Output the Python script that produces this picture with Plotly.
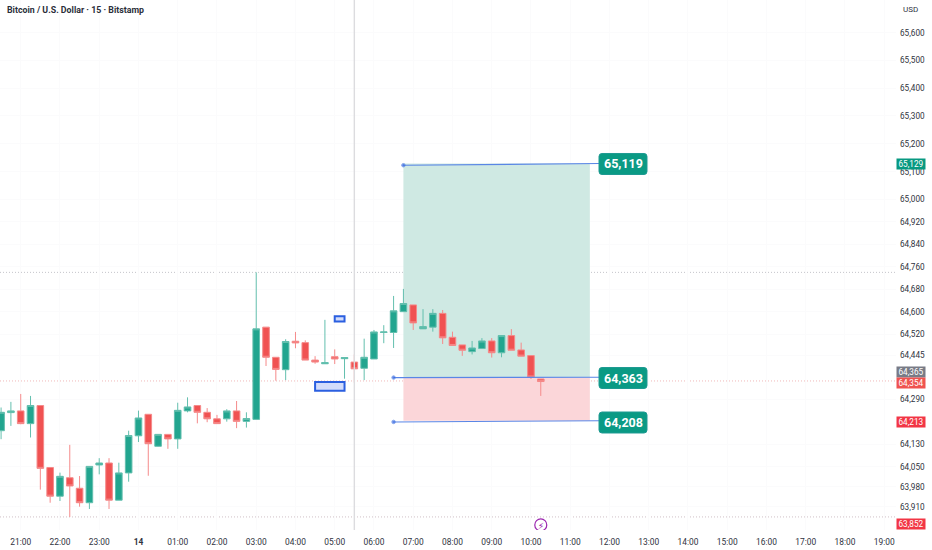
import math
import pandas as pd
import plotly.graph_objects as go

# ---------- data ----------
start = "2024-10-13 20:30"
opens = [64178,64242,64248,64203,64267,64048,63947,64012,63975,63924,64057,64064,63933,64029,64160,64236,64123,64165,64149,64248,64267,64243,64220,64220,64248,64211,
         64218,64545,64438,64394,64495,64490,64428,64415,64440,64433,64421,64399,64432,64526,64526,64600,
         64624,64539,64545,64594,64509,64482,64458,64469,64496,64454,64515,64464,64444,64361]
highs = [64260,64280,64308,64301,64267,64048,64030,64128,64018,64052,64081,64081,64065,64178,64249,64236,64165,64165,64277,64296,64267,64258,64234,64254,64283,64243,
         64740,64545,64438,64502,64528,64498,64442,64571,64466,64437,64448,64504,64535,64552,64656,64681,
         64624,64609,64609,64606,64529,64482,64496,64506,64506,64515,64538,64490,64444,64361]
lows = [64148,64195,64201,64154,63970,63924,63930,63874,63910,63902,64024,63902,63933,63998,64138,64019,64122,64114,64114,64243,64204,64208,64203,64210,64187,64189,
        64218,64407,64355,64357,64470,64428,64415,64415,64414,64362,64348,64357,64432,64488,64471,64600,
        64535,64539,64529,64485,64480,64443,64448,64469,64437,64438,64463,64442,64361,64301]
closes = [64243,64248,64203,64267,64045,63947,64017,63983,63924,64052,64064,63933,64029,64161,64223,64132,64165,64149,64250,64262,64243,64220,64203,64248,64211,64221,
          64539,64438,64395,64494,64489,64428,64421,64419,64432,64437,64397,64438,64528,64528,64603,64629,
          64560,64547,64594,64507,64480,64463,64471,64496,64454,64515,64463,64442,64368,64352]

price_ticks = [65600,65500,65400,65300,65200,65100,65000,64920,64840,64760,64680,64600,64520,64445,64290,64130,64050,63980,63910]
hour_labels = ["21:00","22:00","23:00","<b>14</b>","01:00","02:00","03:00","04:00","05:00","06:00","07:00","08:00","09:00",
               "10:00","11:00","12:00","13:00","14:00","15:00","16:00","17:00","18:00","19:00"]
hour_times = list(pd.date_range("2024-10-13 21:00", periods=len(hour_labels), freq="h"))
times = list(pd.date_range(start, periods=len(opens), freq="15min"))

title_text = "Bitcoin / U.S. Dollar · 15 · Bitstamp"
currency = "USD"
target_price, entry_price, stop_price = 65129, 64366, 64213
target_label, entry_label, stop_label = "65,119", "64,363", "64,208"
zone_start, zone_end = "2024-10-14 06:45", "2024-10-14 11:30"
line_end = "2024-10-14 11:45"
mid_start = "2024-10-14 06:30"
level_high, level_last, level_low = 64740, 64354, 63874
price_tags = [("65,129", 65129, "#089981"), ("64,365", 64365, "#787b86"), ("64,354", 64354, "#ef5350"),
              ("64,213", 64213, "#f23645"), ("63,852", 63852, "#f23645")]

# ---------- geometry ----------
W, H = 932, 550
PW, PH = 896, 530
TOP = math.log10(65600) + 32.7 / 41817
BOT = math.log10(65600) - (PH - 32.7) / 41817
xl = pd.Timestamp("2024-10-13 20:28:20")
xr = pd.Timestamp("2024-10-14 19:18:00")
px = lambda v: v / PW
py = lambda v: 1 - v / PH

GREEN, RED = "#22a58f", "#f05252"
BLUE = "#2b5fe0"
FONT = "Roboto"
NARROW = "Liberation Sans Narrow, Roboto"

def rounded(x0, y0, x1, y1, r=3):
    X = lambda v: f"{px(v):.5f}"
    Y = lambda v: f"{py(v):.5f}"
    return (f"M{X(x0+r)},{Y(y0)} L{X(x1-r)},{Y(y0)} Q{X(x1)},{Y(y0)} {X(x1)},{Y(y0+r)} "
            f"L{X(x1)},{Y(y1-r)} Q{X(x1)},{Y(y1)} {X(x1-r)},{Y(y1)} L{X(x0+r)},{Y(y1)} "
            f"Q{X(x0)},{Y(y1)} {X(x0)},{Y(y1-r)} L{X(x0)},{Y(y0+r)} Q{X(x0)},{Y(y0)} {X(x0+r)},{Y(y0)} Z")

fig = go.Figure()
fig.add_trace(go.Candlestick(
    x=times, open=opens, high=highs, low=lows, close=closes,
    increasing=dict(line=dict(color="#63bfae", width=1), fillcolor=GREEN),
    decreasing=dict(line=dict(color="#f58a8a", width=1), fillcolor=RED),
    whiskerwidth=0, showlegend=False, hoverinfo="skip",
))

# tool lines with end dots
for xs, ys in [((zone_start, line_end), (target_price - 6, target_price)),
               ((mid_start, line_end), (entry_price, entry_price + 1)),
               ((mid_start, line_end), (stop_price - 4, stop_price))]:
    fig.add_trace(go.Scatter(x=list(xs), y=list(ys), mode="lines+markers",
                             line=dict(color="#5a86e6", width=1.1),
                             marker=dict(size=[3.5, 0], color=BLUE),
                             showlegend=False, hoverinfo="skip"))

# event marker
fig.add_trace(go.Scatter(x=["2024-10-14 10:15"], y=[63846], mode="markers",
                         marker=dict(size=12, color="rgba(255,255,255,1)", line=dict(color="#9c27b0", width=1.2)),
                         showlegend=False, hoverinfo="skip"))

shapes = [
    dict(type="rect", xref="x", yref="y", x0=zone_start, x1=zone_end, y0=entry_price, y1=target_price,
         fillcolor="#cfe9e3", line_width=0, layer="between"),
    dict(type="rect", xref="x", yref="y", x0=zone_start, x1=zone_end, y0=stop_price, y1=entry_price,
         fillcolor="#fbd6d9", line_width=0, layer="between"),
]
for lvl, col in [(level_high, "#c4c4ca"), (level_last, "#f0b8b8"), (level_low, "#d0c0c6")]:
    shapes.append(dict(type="line", xref="paper", yref="y", x0=0, x1=1, y0=lvl, y1=lvl,
                       line=dict(color=col, width=1, dash="1px,2px"), layer="between"))
shapes.append(dict(type="line", xref="x", yref="paper", x0="2024-10-14 05:30", x1="2024-10-14 05:30", y0=0, y1=1,
                   line=dict(color="#dcdcdf", width=1.4), layer="above"))
for x0, x1, y0, y1 in [("2024-10-14 04:30", "2024-10-14 05:15", 64319, 64350),
                       ("2024-10-14 05:00", "2024-10-14 05:15", 64565, 64584)]:
    shapes.append(dict(type="rect", xref="x", yref="y", x0=x0, x1=x1, y0=y0, y1=y1,
                       fillcolor="#d3dcfb", line=dict(color=BLUE, width=2), layer="above"))
for yc in (164, 378, 422.5):
    shapes.append(dict(type="path", xref="paper", yref="paper", path=rounded(599, yc - 10.5, 647, yc + 10.5),
                       fillcolor="#0a9a84", line=dict(color="#1f9a92", width=1), layer="above"))

ann = []
for text, yc in [(target_label, 164), (entry_label, 378), (stop_label, 422.5)]:
    ann.append(dict(xref="paper", yref="paper", x=px(623), y=py(yc), text=f"<b>{text}</b>", showarrow=False,
                    font=dict(family=FONT, size=12.5, color="white"), xanchor="center", yanchor="middle"))
ann.append(dict(xref="paper", yref="paper", x=px(4.5), y=py(9.5), text=f"<b>{title_text}</b>", showarrow=False,
                font=dict(family=NARROW, size=8.8, color="#2a2e39"), xanchor="left", yanchor="middle"))
ann.append(dict(xref="paper", yref="paper", x=px(910), y=py(10), text=currency, showarrow=False,
                font=dict(family=NARROW, size=8, color="#2f333e"), xanchor="center", yanchor="middle"))
ann.append(dict(xref="x", yref="paper", x="2024-10-14 10:15", y=py(525.5), text="⚡", showarrow=False,
                font=dict(family="DejaVu Sans", size=8.5, color="#9c27b0"), xanchor="center", yanchor="middle"))
tag_y = {65129: 164.3, 64365: 372.3, 64354: 382.5, 64213: 421.5, 63852: 524}
for text, val, col in price_tags:
    yc = tag_y[val]
    ann.append(dict(xref="paper", yref="paper", x=px(911), y=py(yc), text=text, showarrow=False,
                    font=dict(family=NARROW, size=8.2, color="white"), bgcolor=col, width=28, height=10,
                    borderpad=0, xanchor="center", yanchor="middle"))

fig.update_layout(
    width=W, height=H, margin=dict(l=0, r=W - PW, t=0, b=H - PH, pad=0),
    paper_bgcolor="white", plot_bgcolor="white", showlegend=False,
    boxgap=0.18, boxgroupgap=0.18,
    shapes=shapes, annotations=ann,
    xaxis=dict(type="date", range=[xl, xr], rangeslider=dict(visible=False), tickmode="array",
               tickvals=hour_times, ticktext=hour_labels, ticks="", showline=False, zeroline=False,
               showgrid=True, gridcolor="#fbfbfc", gridwidth=1, ticklabelstandoff=6,
               tickfont=dict(family=NARROW, size=8.4, color="#2f333e")),
    yaxis=dict(type="log", side="right", range=[BOT, TOP], tickmode="array", tickvals=price_ticks,
               ticktext=[f"{v:,}" for v in price_ticks], ticks="", showline=False, zeroline=False,
               showgrid=True, gridcolor="#fbfbfc", gridwidth=1, ticklabelstandoff=3,
               tickfont=dict(family=NARROW, size=8.2, color="#2f333e")),
)
fig.write_html("out.html", post_script="document.body.style.margin='0';", config={"displayModeBar": False})
